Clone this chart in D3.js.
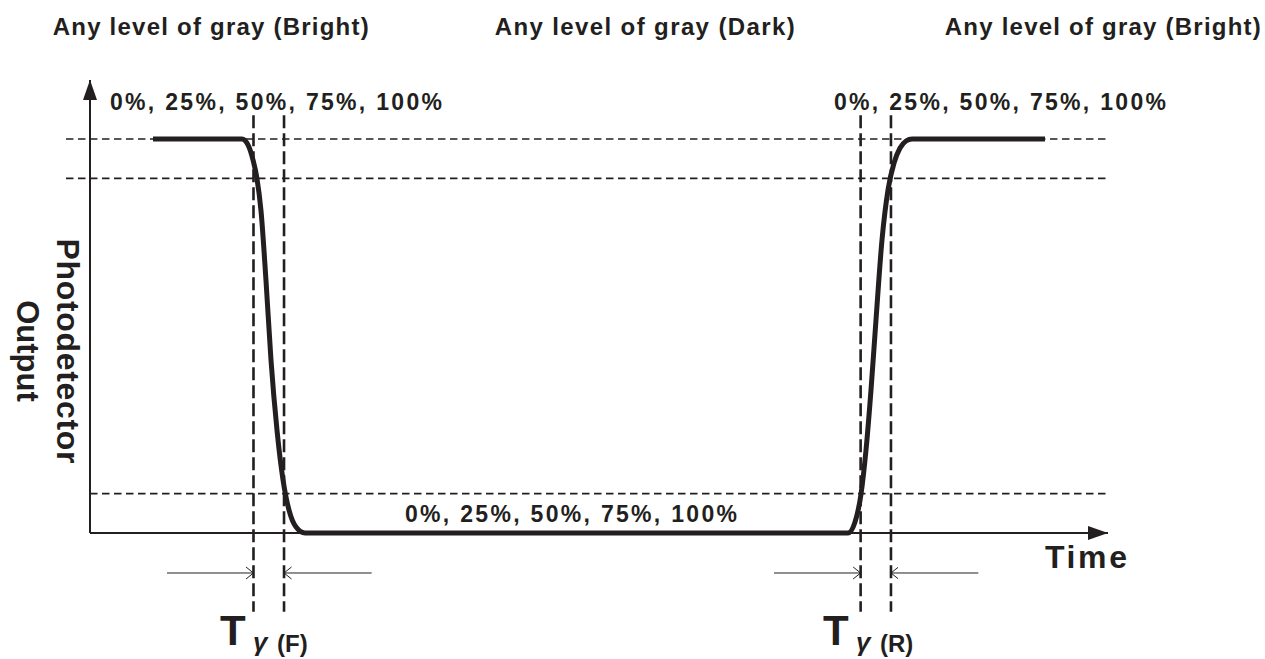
<!DOCTYPE html>
<html>
<head>
<meta charset="utf-8">
<script src="https://cdn.jsdelivr.net/npm/d3@7"></script>
<style>
  html, body { margin: 0; padding: 0; background: #fff; }
  text { font-family: "Liberation Sans", Arial, sans-serif; font-weight: bold; fill: #231f20; }
</style>
</head>
<body>
<svg id="chart" width="1265" height="659"></svg>
<script>
// response curve (time in arbitrary units 0..100, output level in %)
const curveTime  = [6.19, 14.93, 15.52, 16.01, 16.40, 16.80, 17.29, 17.78, 18.37, 18.96, 19.55, 20.24, 21.12,
                    74.46, 75.15, 75.74, 76.23, 76.72, 77.21, 77.80, 78.39, 78.98, 79.57, 80.16, 80.75, 93.81]
const curveLevel = [100, 100, 98.5, 94.7, 90, 81.7, 64, 43.9, 26.1, 13.5, 5.8, 1.5, 0,
                    0, 2.8, 9.9, 21.1, 36.3, 54.1, 74.4, 87.1, 93.9, 97.7, 99.5, 100, 100]

// reference levels (100%, 90%, 10%)
const refLevels = [100, 90, 10]
const refStart  = [-2.36, -2.36, 0]

// 10% / 90% crossing times: fall start, fall end, rise start, rise end
const markerTimes = [16.06, 19.06, 75.7, 78.68]
// thin arrow tails pointing at each marker
const arrowTails  = [7.56, 27.67, 67.19, 87.26]

const stateLabels = ['Any level of gray (Bright)', 'Any level of gray (Dark)', 'Any level of gray (Bright)']
const pctLabel = '0%, 25%, 50%, 75%, 100%'
const subLabels = ['(F)', '(R)']

const svg = d3.select('#chart')
const ink = '#231f20'

const x = d3.scaleLinear().domain([0, 100]).range([90, 1108])
const y = d3.scaleLinear().domain([0, 100]).range([533, 139])

const defs = svg.append('defs')
defs.append('marker')
	.attr('id', 'head')
	.attr('viewBox', '0 0 20 14')
	.attr('refX', 20).attr('refY', 7)
	.attr('markerWidth', 20).attr('markerHeight', 14)
	.attr('markerUnits', 'userSpaceOnUse')
	.attr('orient', 'auto')
	.append('path').attr('d', 'M0,0 L20,7 L0,14 Z').attr('fill', ink)
defs.append('marker')
	.attr('id', 'chev')
	.attr('viewBox', '0 0 8 14')
	.attr('refX', 7.5).attr('refY', 7)
	.attr('markerWidth', 8).attr('markerHeight', 14)
	.attr('markerUnits', 'userSpaceOnUse')
	.attr('orient', 'auto')
	.append('path').attr('d', 'M0,1 L7.5,7 L0,13').attr('fill', 'none').attr('stroke', ink).attr('stroke-width', 1)

// reference dashed levels
svg.append('g')
	.selectAll('line')
	.data(refLevels)
	.join('line')
	.attr('x1', (d, i) => x(refStart[i]))
	.attr('x2', x(100))
	.attr('y1', d => y(d))
	.attr('y2', d => y(d))
	.attr('stroke', ink)
	.attr('stroke-width', 1.6)
	.attr('stroke-dasharray', '7.5,4.5')

// vertical dashed markers
svg.append('g')
	.selectAll('line')
	.data(markerTimes)
	.join('line')
	.attr('x1', d => x(d))
	.attr('x2', d => x(d))
	.attr('y1', y(106))
	.attr('y2', y(-20))
	.attr('stroke', ink)
	.attr('stroke-width', 2.6)
	.attr('stroke-dasharray', '13,5')

// axes
svg.append('line')
	.attr('x1', x(0)).attr('y1', y(0))
	.attr('x2', x(0)).attr('y2', y(115))
	.attr('stroke', ink).attr('stroke-width', 2)
	.attr('marker-end', 'url(#head)')
svg.append('line')
	.attr('x1', x(0)).attr('y1', y(0))
	.attr('x2', x(100)).attr('y2', y(0))
	.attr('stroke', ink).attr('stroke-width', 2)
	.attr('marker-end', 'url(#head)')

// response curve
const line = d3.line()
	.x(d => x(d[0]))
	.y(d => y(d[1]))
	.curve(d3.curveMonotoneX)

svg.append('path')
	.datum(d3.zip(curveTime, curveLevel))
	.attr('d', line)
	.attr('fill', 'none')
	.attr('stroke', ink)
	.attr('stroke-width', 5)

// thin arrows
svg.append('g')
	.selectAll('line')
	.data(markerTimes)
	.join('line')
	.attr('x1', (d, i) => x(arrowTails[i]))
	.attr('x2', d => x(d))
	.attr('y1', y(-10.15))
	.attr('y2', y(-10.15))
	.attr('stroke', ink)
	.attr('stroke-width', 1)
	.attr('marker-end', 'url(#chev)')

// titles on top
const titleX = [52.7, 494.7, 944.8]
const titleW = [316, 300, 316]
svg.append('g')
	.selectAll('text')
	.data(stateLabels)
	.join('text')
	.attr('x', (d, i) => titleX[i])
	.attr('y', 35)
	.attr('font-size', 24)
	.attr('textLength', (d, i) => titleW[i])
	.attr('lengthAdjust', 'spacing')
	.text(d => d)

// percentage labels
const pctPos = [[110, 110], [834, 110], [405, 522]]
svg.append('g')
	.selectAll('text')
	.data(pctPos)
	.join('text')
	.attr('x', d => d[0])
	.attr('y', d => d[1])
	.attr('font-size', 23)
	.attr('textLength', 332)
	.attr('lengthAdjust', 'spacing')
	.text(pctLabel)

// axis labels
svg.append('text')
	.attr('x', 1045).attr('y', 568)
	.attr('font-size', 32)
	.attr('textLength', 82).attr('lengthAdjust', 'spacing')
	.text('Time')

svg.append('text')
	.attr('transform', 'translate(57,351) rotate(90)')
	.attr('text-anchor', 'middle')
	.attr('font-size', 32)
	.attr('textLength', 225).attr('lengthAdjust', 'spacing')
	.text('Photodetector')
svg.append('text')
	.attr('transform', 'translate(17,351) rotate(90)')
	.attr('text-anchor', 'middle')
	.attr('font-size', 31)
	.text('Output')

// T gamma labels under the markers
const tX = [220, 823]
tX.forEach((tx, i) => {
	svg.append('text')
		.attr('x', tx).attr('y', 645)
		.attr('font-size', 42)
		.text('T')
	svg.append('text')
		.attr('x', tx + 33).attr('y', 651)
		.attr('font-size', 26)
		.attr('font-family', '"Liberation Serif", serif')
		.attr('font-style', 'italic')
		.attr('font-weight', 'normal')
		.text('\u03b3')
	svg.append('text')
		.attr('x', tx + 57).attr('y', 652)
		.attr('font-size', 24)
		.text(subLabels[i])
})
</script>
</body>
</html>
